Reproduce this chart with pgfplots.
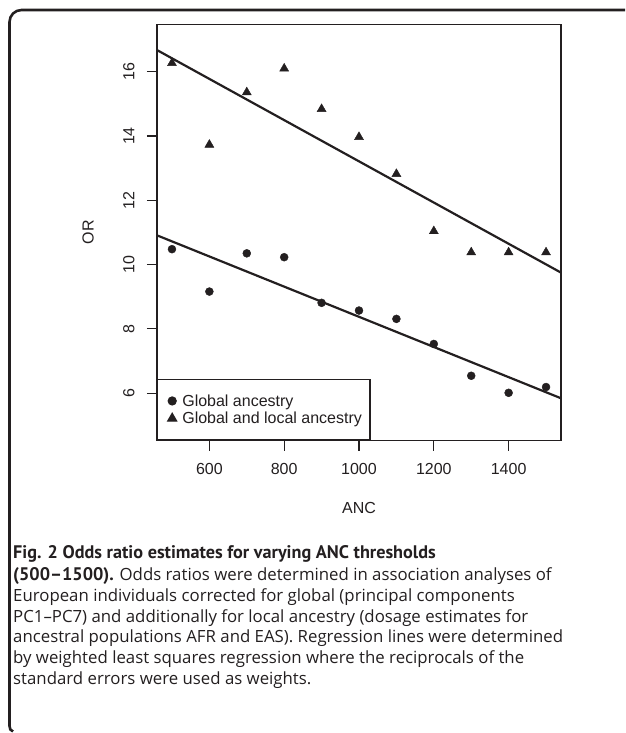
\documentclass[border=0pt]{standalone}
\usepackage{fontspec}
\setmainfont{Liberation Sans}
\newfontfamily\capfont{Open Sans}
\newfontfamily\capboldfont{PT Sans}
\usepackage{pgfplots}
\pgfplotsset{compat=1.18}
\definecolor{ink}{HTML}{231F20}

\begin{document}
\begin{tikzpicture}[x=1pt,y=1pt]
% frame of the figure panel
\draw[ink, line width=2.6pt] (625,723) -- (21.5,723) arc[start angle=90, end angle=180, radius=12]
    -- (9.5,7) to[out=-90, in=165] (13,1.5);

\begin{axis}[
    at={(157pt,292.3pt)}, anchor=south west,
    scale only axis, width=404pt, height=416.5pt,
    xmin=460, xmax=1540, ymin=4.52, ymax=17.48,
    xtick={600,800,...,1400}, ytick={6,8,...,16},
    axis line style={ink, line width=1.2pt},
    tick style={ink, line width=1.2pt},
    tick align=outside, major tick length=10pt,
    xtick pos=bottom, ytick pos=left,
    /pgf/number format/assume math mode=true,
    /pgf/number format/1000 sep={},
    ticklabel style={font=\fontsize{16}{19}\selectfont, text=ink},
    yticklabel style={rotate=90, anchor=south},
    xticklabel shift=9pt, yticklabel shift=9pt,
    xlabel={ANC}, ylabel={OR},
    label style={font=\fontsize{16}{19}\selectfont, text=ink},
    xlabel style={at={(axis description cs:0.5,-0.1616)}, anchor=center},
    ylabel style={at={(axis description cs:-0.1708,0.5)}, anchor=center, rotate=0},
    legend image code/.code={\path (0pt,0pt); \draw[#1] plot coordinates {(8pt,0pt)};},
    legend style={at={(0,0)}, anchor=south west, draw=ink, line width=1.2pt,
        font=\fontsize{16}{19}\selectfont, text=ink,
        inner xsep=6pt, inner ysep=14pt, row sep=2.5pt, column sep=3.6pt,
        nodes={inner ysep=1pt}},
    legend cell align=left,
]
\addplot[only marks, mark=*, mark size=4pt, ink] coordinates {
(500,10.48) (600,9.16) (700,10.35) (800,10.23) (900,8.81) (1000,8.57)
(1100,8.31) (1200,7.53) (1300,6.54) (1400,6.01) (1500,6.19)
};
\addlegendentry{Global ancestry}
\addplot[only marks, mark=triangle*, mark size=5.2pt, ink] coordinates {
(500,16.27) (600,13.73) (700,15.36) (800,16.10) (900,14.84) (1000,13.97)
(1100,12.82) (1200,11.04) (1300,10.38) (1400,10.38) (1500,10.38)
};
\addlegendentry{Global and local ancestry}
% weighted regression lines
\addplot[ink, line width=2.2pt, forget plot] coordinates {(460,10.91) (1540,5.84)};
\addplot[ink, line width=2.2pt, forget plot] coordinates {(460,16.675) (1540,9.75)};
\end{axis}

\begin{scope}[every node/.style={anchor=base west, inner sep=0pt, text=ink,
    font=\capfont\fontsize{16.8}{21}\selectfont}]
\newcommand\capb[1]{{\capboldfont\fontsize{18.2}{21}\selectfont\bfseries #1}}
\node at (13,174) {\capb{Fig. 2 Odds ratio estimates for varying ANC thresholds}};
\node at (13,152.3) {\capb{(500–1500).} Odds ratios were determined in association analyses of};
\node at (13,131.3) {European individuals corrected for global (principal components};
\node at (13,110.3) {PC1–PC7) and additionally for local ancestry (dosage estimates for};
\node at (13,90) {ancestral populations AFR and EAS). Regression lines were determined};
\node at (13,69) {by weighted least squares regression where the reciprocals of the};
\node at (13,48) {standard errors were used as weights.};
\end{scope}
% the page is the reference's panel, whatever reaches past it
\pgfresetboundingbox
\useasboundingbox (0,0) rectangle (625,733);
\end{tikzpicture}
\end{document}
